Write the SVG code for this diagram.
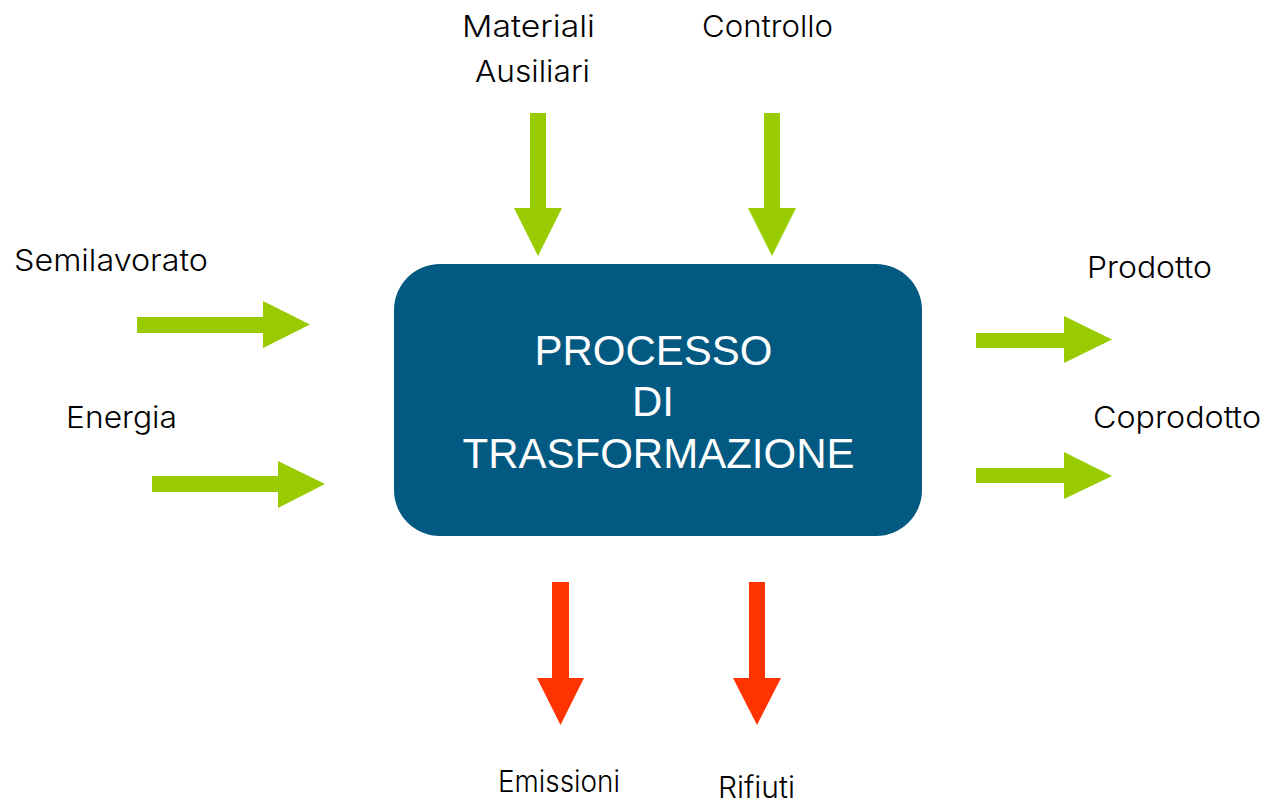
<svg xmlns="http://www.w3.org/2000/svg" width="1263" height="803" viewBox="0 0 1263 803">
<style>
.lbl{font-family:Inter,Lato,"Noto Sans",sans-serif;font-weight:300;font-size:30px;fill:#000;font-variant-ligatures:none}
.box{fill:#025982}
.btxt{font-family:"Liberation Sans",Arial,sans-serif;font-size:42px;fill:#fff;text-anchor:middle}
.g{fill:#99CC00}
.r{fill:#FF3300}
</style>
<rect width="1263" height="803" fill="#fff"/>
<g id="connectors">
<polygon id="a-semilavorato" class="g" points="137,317 263,317 263,301 310,324.5 263,348 263,333 137,333"/>
<polygon id="a-energia" class="g" points="152,476 278,476 278,461 325,484 278,508 278,492 152,492"/>
<polygon id="a-materiali" class="g" points="530,113 546,113 546,208 562,208 538,256 514,208 530,208"/>
<polygon id="a-controllo" class="g" points="764,113 780,113 780,208 796,208 772,256 748,208 764,208"/>
<polygon id="a-prodotto" class="g" points="976,333 1064,333 1064,316 1112,339.5 1064,363 1064,348 976,348"/>
<polygon id="a-coprodotto" class="g" points="976,468 1064,468 1064,452 1112,476 1064,499 1064,483 976,483"/>
<polygon id="a-emissioni" class="r" points="552,582 569,582 569,678 584,678 560.5,725 537,678 552,678"/>
<polygon id="a-rifiuti" class="r" points="749,582 765,582 765,678 781,678 757,725 733,678 749,678"/>
</g>
<g id="processo">
<rect class="box" x="394" y="264" width="528" height="272" rx="46" ry="46"/>
<text class="btxt" x="653.5" y="365">PROCESSO</text>
<text class="btxt" x="653" y="416">DI</text>
<text class="btxt" x="658.5" y="468">TRASFORMAZIONE</text>
</g>
<g id="semilavorato"><text class="lbl" x="14" y="271" textLength="194" lengthAdjust="spacingAndGlyphs">Semilavorato</text></g>
<g id="energia"><text class="lbl" x="66" y="428" textLength="111" lengthAdjust="spacingAndGlyphs">Energia</text></g>
<g id="materiali"><text class="lbl" x="462" y="37" textLength="133" lengthAdjust="spacingAndGlyphs">Materiali</text><text class="lbl" x="475" y="82" textLength="115" lengthAdjust="spacingAndGlyphs">Ausiliari</text></g>
<g id="controllo"><text class="lbl" x="702" y="37" textLength="131" lengthAdjust="spacingAndGlyphs">Controllo</text></g>
<g id="prodotto"><text class="lbl" x="1087" y="278" textLength="125" lengthAdjust="spacingAndGlyphs">Prodotto</text></g>
<g id="coprodotto"><text class="lbl" x="1093" y="428" textLength="168" lengthAdjust="spacingAndGlyphs">Coprodotto</text></g>
<g id="emissioni"><text class="lbl" x="498" y="792" textLength="122" lengthAdjust="spacingAndGlyphs">Emissioni</text></g>
<g id="rifiuti"><text class="lbl" x="718" y="798" textLength="77" lengthAdjust="spacingAndGlyphs">Rifiuti</text></g>
</svg>
